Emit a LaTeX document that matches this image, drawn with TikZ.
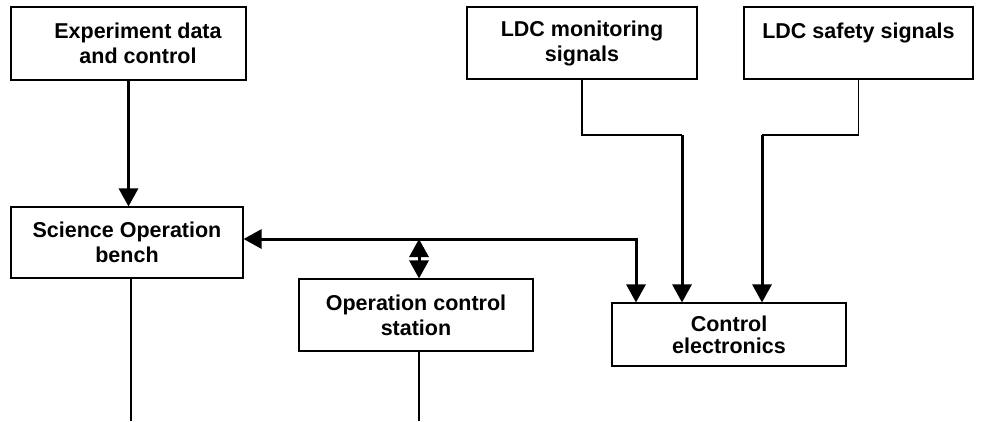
\documentclass[tikz,border=0pt]{standalone}
\usepackage{fontspec}
\setmainfont{Liberation Sans}
\usepackage{tikz}
\usetikzlibrary{arrows.meta,positioning}
\tikzset{
  box/.style = {rectangle, draw=black, line width=1.1pt, align=center,
    inner sep=0pt, font=\bfseries\fontsize{21.5}{25}\selectfont},% boite
  wire/.style = {line width=1.2pt},% fil fin
  sig/.style = {line width=3pt, >={Triangle[length=18pt 0 0,width=19pt 0 0]}, ->}% signal
}

\begin{document}
\begin{tikzpicture}[x=1pt,y=-1pt]
        \useasboundingbox (0,0) rectangle (981,421);
        \node [box, minimum width=235pt, minimum height=73pt] (exp) at (128.5,43.5)
            {\hspace*{19pt}Experiment data\\\hspace*{19pt}and control};
        \node [box, minimum width=230pt, minimum height=72pt] (mon) at (582,43)
            {LDC monitoring\\signals};
        \node [box, minimum width=229pt, minimum height=72pt] (saf) at (858.5,43)
            {LDC safety signals\\\mbox{}};
        \node [box, minimum width=232pt, minimum height=71pt] (sci) at (127,242.5)
            {Science Operation\\bench};
        \node [box, minimum width=234pt, minimum height=72pt] (ocs) at (416,315)
            {Operation control\\station};
        \node [box, minimum width=234pt, minimum height=63pt,
            font=\bfseries\fontsize{21.5}{22}\selectfont] (ctl) at (729,334.5)
            {Control\\electronics};

        \coordinate (bus) at (636,239);
        \coordinate (m1) at (682,135);
        \coordinate (s1) at (762,135);
        \coordinate (sciend) at (131,421);
        \coordinate (ocsend) at (419,421);

        \draw [sig] (exp.south) -- (exp.south |- sci.north);
        \draw [sig,<->] (sci.east |- bus) -- (bus) -- (ctl.north -| bus);
        \draw [sig,<->] (ocsend |- bus) -- (ocsend |- ocs.north);
        \draw [wire] (mon.south) |- (m1);
        \draw [sig] (m1) -- (ctl.north -| m1);
        \draw [wire] (saf.south) |- (s1);
        \draw [sig] (s1) -- (ctl.north -| s1);
        \draw [wire] (sciend |- sci.south) -- (sciend);
        \draw [wire] (ocsend |- ocs.south) -- (ocsend);
\end{tikzpicture}
\end{document}
